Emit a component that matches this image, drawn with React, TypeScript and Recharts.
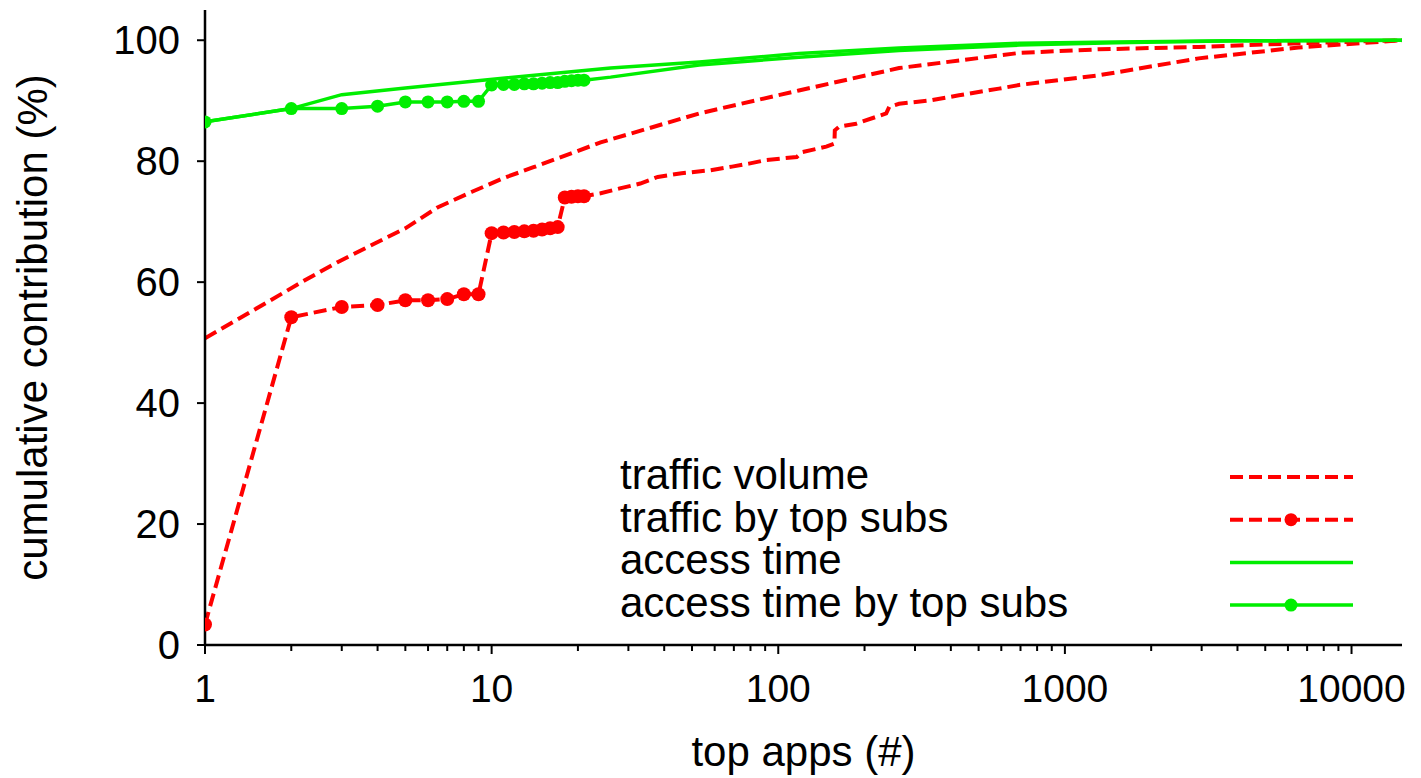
import { LineChart, Line, XAxis, YAxis, Legend, Label } from 'recharts';

// cumulative contribution of top apps (log x axis)
const FONT = '"Liberation Sans", Arial, Helvetica, sans-serif';
const RED = '#ff0000';
const GREEN = '#00ee00';

const xTicks = [
  1, 2, 3, 4, 5, 6, 7, 8, 9,
  10, 20, 30, 40, 50, 60, 70, 80, 90,
  100, 200, 300, 400, 500, 600, 700, 800, 900,
  1000, 2000, 3000, 4000, 5000, 6000, 7000, 8000, 9000,
  10000,
];
const xLabels = [1, 10, 100, 1000, 10000];
const yTicks = [0, 20, 40, 60, 80, 100];

const trafficVolumeX = [1, 2.23, 2.9, 3.8, 5, 6.5, 8.5, 11, 14, 24, 53, 118, 264, 692, 1313, 2930, 6530, 15000];
const trafficVolumeY = [50.7, 60.3, 63.3, 66.1, 68.9, 72.4, 74.9, 77.2, 79.0, 83.1, 87.9, 91.7, 95.4, 97.9, 98.5, 98.9, 99.5, 100];

const trafficTopX = [
  1, 2, 3, 4, 5, 6, 7, 8, 9, 10, 11, 12, 13, 14, 15, 16, 17, 18, 19, 20, 21,
  24, 28, 33, 38, 46, 58, 69, 79, 91, 116, 121, 147, 157, 157.5, 163, 187, 238, 244, 264,
  344, 427, 589, 692, 1313, 2930, 6530, 15000,
];
const trafficTopY = [
  3.4, 54.2, 55.9, 56.2, 57.0, 57.0, 57.2, 58.0, 58.0, 68.1, 68.2, 68.3, 68.4, 68.5, 68.7, 68.9, 69.1, 74.0, 74.1, 74.2, 74.2,
  74.7, 75.5, 76.3, 77.4, 78.0, 78.5, 79.1, 79.6, 80.2, 80.7, 81.5, 82.4, 82.9, 85.1, 85.7, 86.2, 87.9, 89.0, 89.5,
  90.1, 90.9, 92.0, 92.6, 94.2, 97.0, 98.8, 100,
];

const accessX = [1, 2, 3, 5, 9.3, 26, 53, 118, 264, 692, 1500, 4000, 15000];
const accessY = [86.5, 88.7, 91.0, 92.1, 93.4, 95.4, 96.4, 97.8, 98.7, 99.5, 99.7, 99.9, 100];

const accessTopX = [
  1, 2, 3, 4, 5, 6, 7, 8, 9, 10, 11, 12, 13, 14, 15, 16, 17, 18, 19, 20, 21,
  26, 53, 118, 264, 692, 1500, 4000, 15000,
];
const accessTopY = [
  86.5, 88.7, 88.7, 89.1, 89.8, 89.8, 89.8, 89.9, 89.9, 92.6, 92.7, 92.7, 92.8, 92.8, 92.9, 93.0, 93.0, 93.2, 93.3, 93.4, 93.4,
  93.9, 95.9, 97.2, 98.3, 99.2, 99.6, 99.9, 100,
];

// markers are only drawn for the top-subs apps
const MARKED_UP_TO = 21;

const pairs = (xs: number[], ys: number[]) => xs.map((x, i) => ({ x, y: ys[i] }));

const trafficVolume = pairs(trafficVolumeX, trafficVolumeY);
const trafficTop = pairs(trafficTopX, trafficTopY);
const access = pairs(accessX, accessY);
const accessTop = pairs(accessTopX, accessTopY);

const legendRows = [
  { name: 'traffic volume', color: RED, dashed: true, marker: false },
  { name: 'traffic by top subs', color: RED, dashed: true, marker: true },
  { name: 'access time', color: GREEN, dashed: false, marker: false },
  { name: 'access time by top subs', color: GREEN, dashed: false, marker: true },
];

const LogTick = (props: any) => {
  const { x, y, payload } = props;
  const v = payload.value;
  const major = xLabels.includes(v);
  return (
    <g>
      <line x1={x} x2={x} y1={y} y2={y + (major ? 9 : 6)} stroke="#000" strokeWidth={2} />
      {major && (
        <text x={x} y={y + 57} textAnchor="middle" fontSize={39} fill="#000" fontFamily={FONT}>
          {v}
        </text>
      )}
    </g>
  );
};

const markerDot = (color: string, r: number) => (p: any) =>
  p.payload.x <= MARKED_UP_TO ? (
    <circle key={`d-${p.index}`} cx={p.cx} cy={p.cy} r={r} fill={color} />
  ) : (
    <g key={`d-${p.index}`} />
  );

const LegendBox = () => (
  <svg width={1421} height={778} style={{ display: 'block' }}>
    {legendRows.map((row, i) => {
      const ly = 477 + i * 42.7;
      return (
        <g key={row.name}>
          <text x={620} y={ly + 12} fontSize={42} fill="#000" fontFamily={FONT}>
            {row.name}
          </text>
          <line
            x1={1230}
            x2={1353}
            y1={ly}
            y2={ly}
            stroke={row.color}
            strokeWidth={row.dashed ? 4 : 3.5}
            strokeDasharray={row.dashed ? '13 6' : undefined}
          />
          {row.marker && <circle cx={1291} cy={ly} r={6.5} fill={row.color} />}
        </g>
      );
    })}
  </svg>
);

export default function App() {
  return (
    <div style={{ position: 'absolute', left: 0, top: 0, background: '#fff' }}>
      <LineChart
        width={1421}
        height={778}
        margin={{ top: 10, right: 19, left: 0, bottom: 0 }}
        style={{ fontFamily: FONT }}
      >
        <XAxis
          dataKey="x"
          type="number"
          scale="log"
          domain={[1, 15000]}
          ticks={xTicks}
          interval={0}
          height={133}
          tickSize={0}
          tickMargin={0}
          tickLine={false}
          tick={<LogTick />}
          axisLine={{ stroke: '#000', strokeWidth: 2.5 }}
          allowDataOverflow
        >
          <Label value="top apps (#)" position="insideBottom" offset={12} fontSize={42} fill="#000" fontFamily={FONT} />
        </XAxis>
        <YAxis
          type="number"
          domain={[0, 105]}
          ticks={yTicks}
          width={205}
          tickSize={8}
          tickMargin={17}
          tick={{ fontSize: 40, fill: '#000', fontFamily: FONT }}
          tickLine={{ stroke: '#000', strokeWidth: 2 }}
          axisLine={{ stroke: '#000', strokeWidth: 2.5 }}
          allowDataOverflow
        >
          <Label
            value="cumulative contribution (%)"
            angle={-90}
            position="insideLeft"
            offset={32}
            fontSize={42}
            fill="#000"
            fontFamily={FONT}
            style={{ textAnchor: 'middle' }}
          />
        </YAxis>
        <Legend
          layout="vertical"
          align="center"
          verticalAlign="middle"
          wrapperStyle={{ left: 0, top: 0, width: 1421, height: 778, pointerEvents: 'none' }}
          content={() => <LegendBox />}
        />
        <Line
          data={trafficVolume}
          dataKey="y"
          name="traffic volume"
          type="linear"
          stroke={RED}
          strokeWidth={4}
          strokeDasharray="13 6"
          dot={false}
          activeDot={false}
          isAnimationActive={false}
        />
        <Line
          data={trafficTop}
          dataKey="y"
          name="traffic by top subs"
          type="linear"
          stroke={RED}
          strokeWidth={4}
          strokeDasharray="13 6"
          dot={markerDot(RED, 7)}
          activeDot={false}
          isAnimationActive={false}
        />
        <Line
          data={access}
          dataKey="y"
          name="access time"
          type="linear"
          stroke={GREEN}
          strokeWidth={3.5}
          dot={false}
          activeDot={false}
          isAnimationActive={false}
        />
        <Line
          data={accessTop}
          dataKey="y"
          name="access time by top subs"
          type="linear"
          stroke={GREEN}
          strokeWidth={3.5}
          dot={markerDot(GREEN, 6.5)}
          activeDot={false}
          isAnimationActive={false}
        />
      </LineChart>
    </div>
  );
}
